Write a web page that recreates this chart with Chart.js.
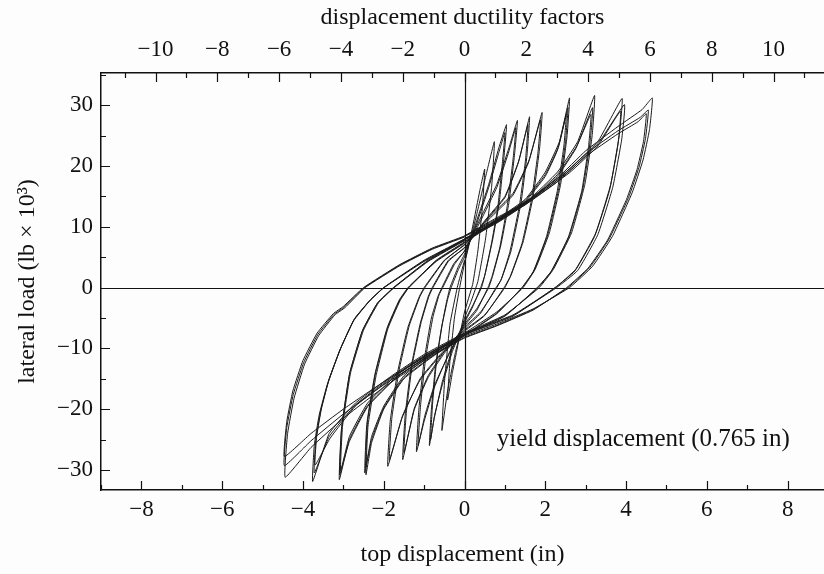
<!DOCTYPE html>
<html lang="en">
<head>
  <meta charset="UTF-8">
  <title>Lateral load vs top displacement</title>
  <script src="https://cdn.jsdelivr.net/npm/chart.js"></script>
  <style>
    body { margin: 0; background: #fdfdfd; }
  </style>
</head>
<body>
  <canvas id="grafico" width="824" height="574"></canvas>

  <script>
    // tick labels
    const dispTicks = [-8, -6, -4, -2, 0, 2, 4, 6, 8];
    const ductTicks = [-10, -8, -6, -4, -2, 0, 2, 4, 6, 8, 10];
    const loadTicks = [-30, -20, -10, 0, 10, 20, 30];
    const yieldDisp = 0.765;
    const note = 'yield displacement (0.765 in)';

    // hysteresis loops, [displacement in, load kips]
    const cycleA = [
      [0,4],[0.2,10],[0.38,16],[0.5,19.5],[0.44,13],[0.33,6],[0.2,0.5],[0,-4],[-0.15,-9],[-0.3,-14],[-0.42,-18.5],[-0.36,-12],[-0.25,-5],[-0.12,0],[0,4],
      [0.3,12],[0.55,19],[0.74,24],[0.67,16.5],[0.52,8],[0.33,1],[0.15,-2.5],[0,-5],[-0.22,-10.5],[-0.42,-17],[-0.56,-23.5],[-0.49,-15],[-0.36,-6],[-0.18,0],[0,4.5]
    ];
    const cycleB = [
      [0,5],[0.3,11],[0.6,17],[0.85,23],[1.04,26.8],[0.97,21],[0.86,14],[0.7,8],[0.52,2.5],[0.42,0],[0.2,-3],[0,-5.5],[-0.3,-10],[-0.55,-15.5],[-0.75,-21.5],[-0.87,-26],[-0.82,-20],[-0.72,-13],[-0.58,-7],[-0.45,-2.5],[-0.36,0],[-0.15,3.5],[0,5.5],
      [0.3,10.5],[0.6,16.5],[0.84,22],[1.0,25.5],[0.93,20],[0.82,13],[0.66,7],[0.5,2],[0.4,0],[0.2,-3.2],[0,-5.8],[-0.3,-10.5],[-0.55,-16],[-0.74,-21],[-0.84,-25],[-0.79,-19],[-0.69,-12],[-0.55,-6],[-0.42,-2],[-0.33,0],[-0.15,3],[0,5]
    ];
    const cycleC = [
      [0,6],[0.4,11.5],[0.8,17],[1.1,23],[1.31,27.5],[1.24,22],[1.1,14],[0.9,7],[0.7,2],[0.6,0],[0.3,-3.5],[0,-6],[-0.4,-11],[-0.75,-16.5],[-1.0,-22],[-1.19,-27],[-1.13,-20],[-1.0,-12],[-0.82,-5],[-0.66,-1.5],[-0.56,0],[-0.26,4],[0,6],
      [0.4,11],[0.8,16.5],[1.08,22],[1.27,26.3],[1.2,21],[1.06,13.5],[0.87,6.5],[0.68,1.8],[0.58,0],[0.3,-3.8],[0,-6.3],[-0.4,-11.2],[-0.74,-16],[-0.98,-21],[-1.15,-26],[-1.09,-19.5],[-0.96,-11.5],[-0.78,-4.8],[-0.63,-1.2],[-0.54,0],[-0.25,3.8],[0,6]
    ];
    const cycleD = [
      [0,6.5],[0.5,11],[1.0,15],[1.35,21],[1.61,28.1],[1.55,22],[1.4,14],[1.15,6],[0.92,1.5],[0.8,0],[0.4,-4],[0,-6.5],[-0.5,-10.5],[-0.9,-14.5],[-1.25,-20],[-1.53,-28.3],[-1.47,-21],[-1.32,-13],[-1.1,-6],[-0.9,-1.5],[-0.8,0],[-0.4,4.5],[0,6.5],
      [0.5,10.8],[1.0,14.8],[1.33,20.5],[1.57,26.8],[1.51,21],[1.36,13.5],[1.12,5.8],[0.9,1.2],[0.78,0],[0.4,-4.2],[0,-6.8],[-0.5,-10.8],[-0.9,-14.8],[-1.24,-20],[-1.5,-27.2],[-1.44,-20.5],[-1.29,-12.5],[-1.07,-5.6],[-0.88,-1.4],[-0.78,0],[-0.4,4.3],[0,6.6]
    ];
    const cycleE = [
      [0,7],[0.6,11.5],[1.2,15.5],[1.6,21],[1.92,28.8],[1.86,23],[1.7,15],[1.45,7.5],[1.15,2],[1.0,0],[0.5,-4.5],[0,-7],[-0.6,-11],[-1.1,-15],[-1.55,-21.5],[-1.9,-29.4],[-1.84,-22],[-1.66,-14],[-1.4,-6.5],[-1.12,-1.5],[-1.0,0],[-0.5,4.5],[0,7],
      [0.6,11.2],[1.2,15.2],[1.58,20.5],[1.88,27.6],[1.82,22.3],[1.66,14.5],[1.42,7.2],[1.13,1.8],[0.98,0],[0.5,-4.6],[0,-7.2],[-0.6,-11.2],[-1.1,-15.2],[-1.53,-21],[-1.86,-28.4],[-1.8,-21.5],[-1.62,-13.6],[-1.37,-6.3],[-1.1,-1.4],[-0.98,0],[-0.5,4.4],[0,7.1]
    ];
    const cycleF = [
      [0,7.5],[0.75,11],[1.5,14.5],[2.0,19],[2.35,24],[2.6,31.2],[2.54,25],[2.38,17],[2.1,9],[1.75,3],[1.45,0],[0.8,-4],[0,-7.5],[-0.8,-11],[-1.5,-14.5],[-2.0,-19.5],[-2.3,-24.5],[-2.45,-29.6],[-2.4,-22],[-2.2,-14],[-1.9,-6.5],[-1.6,-2],[-1.38,0],[-0.7,4.5],[0,7.5],
      [0.75,10.8],[1.5,14.3],[2.0,18.6],[2.33,23.2],[2.56,29.6],[2.5,24],[2.34,16.5],[2.06,8.7],[1.72,2.8],[1.43,0],[0.8,-4.2],[0,-7.8],[-0.8,-11.3],[-1.5,-14.8],[-2.0,-19.8],[-2.3,-25],[-2.47,-30.5],[-2.42,-22.5],[-2.22,-14.3],[-1.92,-6.7],[-1.62,-2.1],[-1.4,0],[-0.7,4.4],[0,7.4],
      [0.75,10.6],[1.5,14.1],[2.0,18.3],[2.3,22.6],[2.52,28.5],[2.46,23.3],[2.3,16],[2.03,8.4],[1.7,2.6],[1.42,0],[0.8,-4.3],[0,-7.9],[-0.8,-11.4],[-1.5,-15],[-2.0,-20],[-2.3,-25.5],[-2.44,-30.8],[-2.39,-22.8],[-2.19,-14.5],[-1.9,-6.8],[-1.6,-2.2],[-1.38,0],[-0.7,4.3],[0,7.3]
    ];
    const cycleG = [
      [0,8],[0.8,11],[1.6,14.5],[2.3,19],[2.8,24],[3.22,31.6],[3.16,25],[2.98,17],[2.65,9],[2.2,3],[1.85,0],[1.0,-4.5],[0,-7.5],[-0.9,-11],[-1.7,-14.5],[-2.4,-19],[-2.85,-24.5],[-3.09,-30.8],[-3.04,-23],[-2.84,-14],[-2.52,-7],[-2.15,-2.5],[-1.75,0],[-0.9,4.5],[0,8],
      [0.8,10.8],[1.6,14.3],[2.3,18.6],[2.78,23.3],[3.17,29.6],[3.11,24],[2.93,16.3],[2.6,8.6],[2.16,2.8],[1.82,0],[1.0,-4.6],[0,-7.7],[-0.9,-11.2],[-1.7,-14.8],[-2.4,-19.4],[-2.85,-25],[-3.1,-31.6],[-3.05,-23.5],[-2.85,-14.3],[-2.53,-7.1],[-2.16,-2.6],[-1.76,0],[-0.9,4.4],[0,7.8],
      [0.8,10.6],[1.6,14.1],[2.3,18.3],[2.75,22.8],[3.13,28.5],[3.07,23.2],[2.9,15.8],[2.57,8.3],[2.14,2.6],[1.8,0],[1.0,-4.7],[0,-7.8],[-0.9,-11.3],[-1.7,-14.9],[-2.4,-19.6],[-2.85,-25.3],[-3.07,-30.2],[-3.02,-22.8],[-2.82,-14],[-2.5,-7],[-2.13,-2.5],[-1.74,0],[-0.9,4.3],[0,7.7]
    ];
    const cycleH = [
      [0,8],[0.9,11.5],[1.7,15],[2.6,19.5],[3.3,24],[3.9,31.1],[3.83,25],[3.62,17],[3.25,9],[2.75,3],[2.25,0],[1.2,-4.5],[0,-7.5],[-1.0,-11],[-1.8,-14.5],[-2.7,-19],[-3.35,-24],[-3.76,-31.9],[-3.72,-26],[-3.6,-21],[-3.4,-16],[-3.1,-10.5],[-2.75,-5.5],[-2.35,-2.2],[-2.0,0],[-1.0,4.5],[0,8],
      [0.9,11.3],[1.7,14.8],[2.6,19.2],[3.32,23.8],[3.96,30.1],[3.89,24.3],[3.67,16.5],[3.3,8.7],[2.8,2.8],[2.28,0],[1.2,-4.6],[0,-7.7],[-1.0,-11.2],[-1.8,-14.7],[-2.7,-19.3],[-3.35,-24.5],[-3.72,-30.5],[-3.68,-25],[-3.56,-20.3],[-3.37,-15.5],[-3.08,-10.2],[-2.74,-5.3],[-2.34,-2.1],[-2.0,0],[-1.0,4.4],[0,7.9],
      [0.9,11.1],[1.7,14.6],[2.6,18.9],[3.3,23.3],[3.86,29],[3.8,23.6],[3.59,16],[3.22,8.4],[2.73,2.7],[2.24,0],[1.2,-4.7],[0,-7.8],[-1.0,-11.3],[-1.8,-14.9],[-2.7,-19.5],[-3.33,-24.8],[-3.7,-29.2],[-3.66,-24.5],[-3.54,-19.8],[-3.35,-15],[-3.06,-9.9],[-2.72,-5.1],[-2.33,-2],[-1.99,0],[-1.0,4.3],[0,7.8]
    ];
    const cycleI = [
      [0,8.5],[0.8,11.5],[1.5,14],[2.3,18],[3.0,22.5],[3.8,26.5],[4.4,29.3],[4.65,31.2],[4.58,26],[4.42,21],[4.15,15.6],[3.66,8.4],[3.17,3.5],[2.6,0],[1.7,-3.5],[0.8,-6],[0,-8],[-1.0,-11.5],[-2.0,-15.5],[-3.0,-20],[-3.8,-24],[-4.46,-27.8],[-4.4,-22],[-4.25,-17],[-4.0,-12],[-3.65,-7.5],[-3.25,-4.3],[-3.0,-3.1],[-2.5,0],[-1.6,3.8],[-0.8,6.5],[0,8.5],
      [0.8,11.3],[1.5,13.8],[2.3,17.7],[3.0,22],[3.8,25.8],[4.35,28],[4.55,29.2],[4.48,24.5],[4.32,19.8],[4.06,14.8],[3.58,8],[3.1,3.3],[2.56,0],[1.7,-3.6],[0.8,-6.2],[0,-8.2],[-1.0,-11.8],[-2.0,-16],[-3.0,-20.8],[-3.8,-25.2],[-4.46,-29.3],[-4.4,-23],[-4.24,-17.6],[-3.98,-12.3],[-3.63,-7.7],[-3.23,-4.4],[-2.98,-3.2],[-2.48,0],[-1.6,3.7],[-0.8,6.4],[0,8.4],
      [0.8,11.1],[1.5,13.6],[2.3,17.4],[3.0,21.6],[3.8,25.3],[4.3,27.3],[4.5,28.6],[4.43,24],[4.27,19.4],[4.01,14.5],[3.54,7.8],[3.06,3.2],[2.53,0],[1.7,-3.7],[0.8,-6.3],[0,-8.3],[-1.0,-12],[-2.0,-16.4],[-3.0,-21.5],[-3.8,-26.3],[-4.44,-31.2],[-4.38,-24],[-4.22,-18.2],[-3.96,-12.6],[-3.61,-7.9],[-3.21,-4.5],[-2.96,-3.3],[-2.46,0],[-1.6,3.6],[-0.8,6.3],[0,8.3]
    ];
    const cycles = [cycleA, cycleB, cycleC, cycleD, cycleE, cycleF, cycleG, cycleH, cycleI];

    const minus = v => String(v).replace('-', '\u2212');
    const family = "'Liberation Serif', 'DejaVu Serif', serif";
    const tickFont = { family, size: 23 };
    const titleFont = { family, size: 24 };
    const ink = '#111';

    // draws zero lines, inward tick marks and the note
    const frame = {
      id: 'frame',
      beforeDraw(chart) {
        const ctx = chart.ctx;
        ctx.save();
        ctx.fillStyle = '#fdfdfd';
        ctx.fillRect(0, 0, chart.width, chart.height);
        ctx.restore();
      },
      beforeDatasetsDraw(chart) {
        const { ctx, chartArea: a, scales } = chart;
        ctx.save();
        ctx.strokeStyle = ink;
        ctx.lineWidth = 1.2;
        const x0 = Math.round(scales.x.getPixelForValue(0)) + 0.5;
        const y0 = Math.round(scales.y.getPixelForValue(0)) + 0.5;
        ctx.beginPath();
        ctx.moveTo(x0, a.top); ctx.lineTo(x0, a.bottom);
        ctx.moveTo(a.left, y0); ctx.lineTo(a.right, y0);
        ctx.stroke();
        ctx.restore();
      },
      afterDraw(chart) {
        const { ctx, chartArea: a, scales } = chart;
        ctx.save();
        ctx.strokeStyle = ink;
        ctx.lineWidth = 1.2;
        ctx.beginPath();
        scales.x.ticks.forEach(t => {
          if (!Number.isInteger(t.value)) return;
          const px = Math.round(scales.x.getPixelForValue(t.value)) + 0.5;
          const len = t.value % 2 === 0 ? 9 : 5;
          ctx.moveTo(px, a.bottom); ctx.lineTo(px, a.bottom - len);
        });
        scales.x2.ticks.forEach(t => {
          if (!Number.isInteger(t.value)) return;
          const px = Math.round(scales.x2.getPixelForValue(t.value)) + 0.5;
          const len = t.value % 2 === 0 ? 9 : 5;
          ctx.moveTo(px, a.top); ctx.lineTo(px, a.top + len);
        });
        scales.y.ticks.forEach(t => {
          if (!Number.isInteger(t.value)) return;
          const py = Math.round(scales.y.getPixelForValue(t.value)) + 0.5;
          const len = t.value % 10 === 0 ? 9 : 5;
          ctx.moveTo(a.left, py); ctx.lineTo(a.left + len, py);
        });
        ctx.stroke();

        ctx.fillStyle = ink;
        ctx.font = "25px 'Liberation Serif', serif";
        ctx.textAlign = 'left';
        ctx.textBaseline = 'middle';
        ctx.fillText(note, scales.x.getPixelForValue(0.8), scales.y.getPixelForValue(-25));
        ctx.restore();
      }
    };

    const xMin = -9, xMax = 8.9;

    new Chart(document.getElementById('grafico').getContext('2d'), {
      type: 'line',
      data: {
        datasets: cycles.map(c => ({
          data: c.map(([x, y]) => ({ x, y })),
          borderColor: '#1a1a1a',
          borderWidth: 1,
          pointRadius: 0,
          fill: false,
          tension: 0.12
        }))
      },
      options: {
        responsive: false,
        animation: false,
        layout: { padding: 0 },
        plugins: { legend: { display: false }, tooltip: { enabled: false } },
        scales: {
          x: {
            type: 'linear',
            position: 'bottom',
            min: xMin, max: xMax,
            afterFit: s => { s.height = 84; },
            grid: { display: true, drawOnChartArea: false, drawTicks: false },
            border: { display: true, color: ink, width: 1.5 },
            ticks: {
              stepSize: 1, includeBounds: false, autoSkip: false, maxRotation: 0, padding: 6,
              color: ink, font: tickFont,
              callback: v => dispTicks.includes(v) ? minus(v) : ''
            },
            title: { display: true, text: 'top displacement (in)', color: ink, font: titleFont, padding: { top: 0, bottom: 5 } }
          },
          x2: {
            type: 'linear',
            position: 'top',
            min: xMin / yieldDisp, max: xMax / yieldDisp,
            afterFit: s => { s.height = 73; },
            grid: { display: true, drawOnChartArea: false, drawTicks: false },
            border: { display: true, color: ink, width: 1.5 },
            ticks: {
              stepSize: 1, includeBounds: false, autoSkip: false, maxRotation: 0, padding: 9,
              color: ink, font: tickFont,
              callback: v => ductTicks.includes(v) ? minus(v) : ''
            },
            title: { display: true, text: 'displacement ductility factors', color: ink, font: titleFont, padding: { top: 3, bottom: 0 } }
          },
          y: {
            type: 'linear',
            min: -33.3, max: 35.3,
            afterFit: s => { s.width = 101; },
            grid: { display: true, drawOnChartArea: false, drawTicks: false },
            border: { display: true, color: ink, width: 1.5 },
            ticks: {
              stepSize: 5, includeBounds: false, autoSkip: false, padding: 8,
              color: ink, font: tickFont,
              callback: v => loadTicks.includes(v) ? minus(v) : ''
            },
            title: { display: true, text: 'lateral load (lb \u00d7 10\u00b3)', color: ink, font: titleFont, padding: { top: 13, bottom: 0 } }
          }
        }
      },
      plugins: [frame]
    });
  </script>
</body>
</html>
